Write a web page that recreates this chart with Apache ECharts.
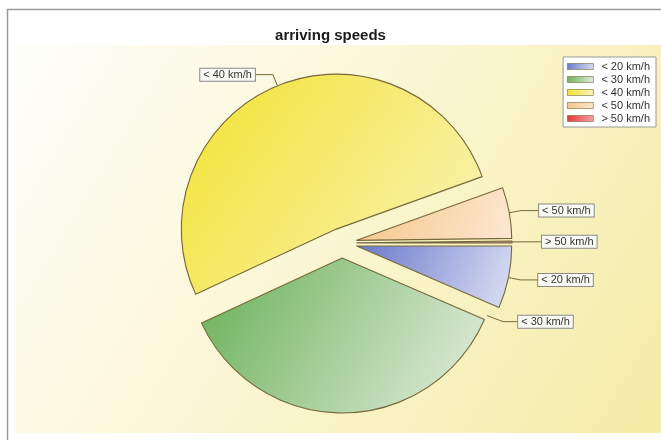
<!DOCTYPE html>
<html lang="en">
<head>
    <meta charset="UTF-8">
    <title>arriving speeds</title>
    <script src="https://cdn.jsdelivr.net/npm/echarts@6/dist/echarts.min.js"></script>
    <style>
        html, body { margin: 0; padding: 0; background: #fff; }
    </style>
</head>
<body>
<div id="main" style="width: 661px;height:440px;"></div>

<script type="text/javascript">
    // categories and share of each speed class (percent)
    var categories = ['< 20 km/h', '< 30 km/h', '< 40 km/h', '< 50 km/h', '> 50 km/h'];
    var shares = [6.5, 36.6, 51.4, 5.3, 0.2];

    // gradient colours (dark top-left -> light bottom-right)
    var darkColors = ['#6878cb', '#68b055', '#f3e230', '#f5c487', '#e33535'];
    var lightColors = ['#dde1f4', '#e6eee1', '#f9f4bd', '#fce9d2', '#f7a5a5'];

    var cx = 342, cy = 243, R = 155, off = 15;

    (function(){
        var myChart = echarts.init(document.getElementById('main'));

        var total = 0;
        for (var i = 0; i < shares.length; i++) total += shares[i];

        var pieData = [];
        for (var i = 0; i < categories.length; i++) {
            pieData.push({
                name: categories[i],
                value: shares[i],
                selected: true,
                itemStyle: {
                    color: {
                        type: 'linear', x: 0, y: 0, x2: 1, y2: 1,
                        colorStops: [
                            {offset: 0, color: darkColors[i]},
                            {offset: 1, color: lightColors[i]}
                        ]
                    }
                }
            });
        }

        // the "< 30" label sits at the right end of its slice, not at the bottom
        // (points are in the slice's own frame, the explode offset is added by echarts)
        function moveGreenLabel(params) {
            if (params.dataIndex !== 1) return {};
            var a0 = shares[0] / total * Math.PI * 2;
            var a = a0 - 0.03;
            var p0 = [cx + (R + 1) * Math.cos(a), cy + (R + 1) * Math.sin(a)];
            var p1 = [p0[0] + 16, p0[1] + 6];
            var p2 = [p1[0] + 14, p1[1]];
            var r = params.labelRect;
            return {
                dx: p2[0] - r.x,
                dy: p2[1] - (r.y + r.height / 2),
                labelLinePoints: [p0, p1, p2]
            };
        }

        var option = {
            animation: false,
            textStyle: {fontFamily: 'Liberation Sans, Arial, sans-serif'},
            graphic: [
                {
                    type: 'rect', z: -10, silent: true,
                    shape: {x: 7.5, y: 9.5, width: 700, height: 500},
                    style: {fill: '#fff', stroke: '#9a9a9a', lineWidth: 1.5}
                },
                {
                    type: 'rect', z: -9, silent: true,
                    shape: {x: 15, y: 45, width: 650, height: 388},
                    style: {
                        fill: {
                            type: 'linear', x: 0, y: 0, x2: 1, y2: 1,
                            colorStops: [
                                {offset: 0, color: '#fefefa'},
                                {offset: 0.45, color: '#fbf7d6'},
                                {offset: 1, color: '#f5eba5'}
                            ]
                        }
                    }
                }
            ],
            title: {
                text: 'arriving speeds',
                left: 'center',
                top: 23,
                textStyle: {fontSize: 15, fontWeight: 'bold', color: '#1a1a1a'}
            },
            legend: {
                orient: 'vertical',
                right: 5,
                top: 57,
                data: categories,
                icon: 'rect',
                itemWidth: 26,
                itemHeight: 6,
                itemGap: 2,
                padding: [4, 6, 3, 4],
                backgroundColor: '#ffffff',
                borderColor: '#999999',
                borderWidth: 1,
                borderRadius: 0,
                itemStyle: {borderWidth: 0.6},
                textStyle: {fontSize: 11, color: '#333', padding: [0, 0, 0, 3]}
            },
            series: [{
                name: 'arriving speeds',
                type: 'pie',
                center: [cx, cy],
                radius: R,
                startAngle: 0,
                clockwise: true,
                selectedMode: 'multiple',
                selectedOffset: off,
                avoidLabelOverlap: false,
                itemStyle: {borderColor: '#76683a', borderWidth: 1.1},
                label: {
                    show: true,
                    position: 'outside',
                    fontSize: 11,
                    color: '#333',
                    backgroundColor: '#fbfbf6',
                    borderColor: '#888',
                    borderWidth: 1,
                    padding: [1, 3, 0, 3],
                    distanceToLabelLine: 0
                },
                labelLine: {
                    show: true,
                    length: 12,
                    length2: 18,
                    lineStyle: {color: '#76683a', width: 1}
                },
                labelLayout: moveGreenLabel,
                emphasis: {disabled: true},
                data: pieData
            }]
        };

        myChart.setOption(option);
    })();
</script>
</body>
</html>
